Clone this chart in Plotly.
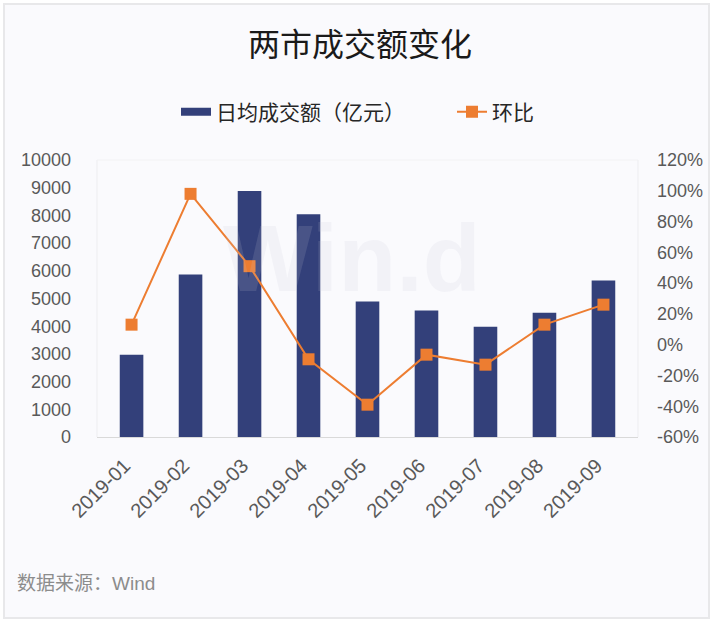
import plotly.graph_objects as go

months = ["2019-01", "2019-02", "2019-03", "2019-04", "2019-05",
          "2019-06", "2019-07", "2019-08", "2019-09"]
turnover = [2970, 5870, 8880, 8040, 4890, 4570, 3980, 4490, 5650]
mom_pct = [13, 98, 51, -9.5, -39, -6.5, -13, 13, 26]

left_ticks = list(range(0, 10001, 1000))
left_tick_text = [str(v) for v in left_ticks]
right_ticks = list(range(-60, 121, 20))
right_tick_text = [f"{v}%" for v in right_ticks]

FONT = "Liberation Sans, Arial, Noto Sans CJK SC, sans-serif"
W, H = 721, 628
L, R, T, B = 97, 83, 160, 191
pw, ph = W - L - R, H - T - B
BAR_COLOR = "#33407a"
LINE_COLOR = "#ed7d31"

def px(x):
    return (x - L) / pw

def py(y):
    return (H - B - y) / ph

fig = go.Figure()
fig.add_trace(go.Bar(
    x=months, y=turnover, name="日均成交额（亿元）",
    marker=dict(color=BAR_COLOR, line=dict(width=0)),
    width=0.4, yaxis="y", showlegend=False,
))
# legend-only entry to give the bar series a wide rectangular swatch
fig.add_trace(go.Scatter(
    x=[None], y=[None], name="日均成交额（亿元）", mode="lines",
    line=dict(color=BAR_COLOR, width=8), legend="legend",
))
fig.add_trace(go.Scatter(
    x=months, y=mom_pct, name="环比", mode="lines+markers",
    line=dict(color=LINE_COLOR, width=2),
    marker=dict(symbol="square", size=12, color=LINE_COLOR),
    yaxis="y2", legend="legend2",
))

legend_common = dict(orientation="h", yanchor="middle",
                     font=dict(size=21, color="#262626", family=FONT),
                     itemwidth=30, bgcolor="rgba(0,0,0,0)")

fig.update_layout(
    width=W, height=H,
    margin=dict(l=L, r=R, t=T, b=B, autoexpand=False),
    paper_bgcolor="white", plot_bgcolor="rgba(0,0,0,0)",
    font=dict(family=FONT, size=18, color="#595959"),
    showlegend=True,
    legend=dict(x=px(176), xanchor="left", y=py(112), **legend_common),
    legend2=dict(x=px(452), xanchor="left", y=py(112), **legend_common),
    bargap=0.6,
    xaxis=dict(type="category", tickangle=-45, showgrid=False,
               showline=True, linecolor="#d9d9d9", linewidth=1,
               ticks="", tickfont=dict(size=20, color="#595959"),
               ticklabelstandoff=8, ticklabelshift=-7,
               fixedrange=True),
    yaxis=dict(range=[0, 10000], tickvals=left_ticks, ticktext=left_tick_text,
               showgrid=False, zeroline=False, showline=False, ticks="",
               tickfont=dict(size=18, color="#595959"), ticklabelstandoff=25,
               fixedrange=True),
    yaxis2=dict(range=[-60, 120], tickvals=right_ticks, ticktext=right_tick_text,
                overlaying="y", side="right", showgrid=False, zeroline=False,
                showline=False, ticks="", tickfont=dict(size=18, color="#595959"),
                ticklabelstandoff=18, fixedrange=True),
    shapes=[
        dict(type="rect", xref="paper", yref="paper", layer="below",
             x0=px(4), x1=px(709), y0=py(4), y1=py(618),
             fillcolor="#fafafd", line=dict(color="#e8e8ea", width=2)),
        dict(type="line", xref="paper", yref="paper", layer="below",
             x0=0, x1=0, y0=0, y1=1, line=dict(color="#ededf0", width=1)),
        dict(type="line", xref="paper", yref="paper", layer="below",
             x0=1, x1=1, y0=0, y1=1, line=dict(color="#ededf0", width=1)),
        dict(type="line", xref="paper", yref="paper", layer="below",
             x0=0, x1=1, y0=1, y1=1, line=dict(color="#f2f2f4", width=1)),
    ],
    annotations=[
        dict(text="两市成交额变化", xref="paper", yref="paper",
             x=px(360), y=py(45), xanchor="center", yanchor="middle",
             showarrow=False, font=dict(size=32, color="#1a1a1a", family=FONT)),
        dict(text="数据来源：Wind", xref="paper", yref="paper",
             x=px(15), y=py(583), xanchor="left", yanchor="middle",
             showarrow=False, font=dict(size=19, color="#8c8c8c", family=FONT)),
        dict(text="<b>Win.d</b>", xref="paper", yref="paper",
             x=px(352), y=py(258), xanchor="center", yanchor="middle",
             showarrow=False, font=dict(size=95, color="rgba(200,200,212,0.15)",
                                        family=FONT)),
    ],
)

fig.write_html("out.html", config={"displayModeBar": False},
               post_script="document.body.style.margin='0';")
